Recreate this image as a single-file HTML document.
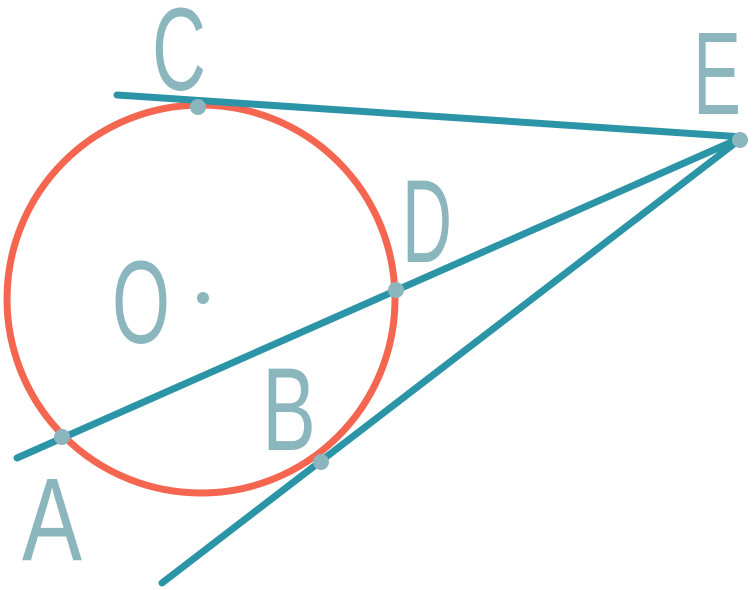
<!DOCTYPE html>
<html><head><meta charset="utf-8"><style>html,body{margin:0;padding:0;background:#fff}svg{display:block}</style></head>
<body>
<svg width="753" height="590" viewBox="0 0 753 590" xmlns="http://www.w3.org/2000/svg">
<circle cx="201" cy="299" r="194" fill="none" stroke="#f46650" stroke-width="7"/>
<g stroke="#2b95a7" stroke-width="7" stroke-linecap="round">
<line x1="117" y1="95" x2="743" y2="137"/>
<line x1="17" y1="458" x2="743" y2="137"/>
<line x1="162" y1="583" x2="743" y2="137"/>
</g>
<g fill="#8bb6bd">
<circle cx="198" cy="107" r="8"/>
<circle cx="396" cy="290" r="8"/>
<circle cx="62" cy="437" r="8"/>
<circle cx="321" cy="462" r="8"/>
<circle cx="740" cy="140" r="8"/>
<circle cx="203" cy="298" r="6"/>
</g>
<g fill="#8bb6bd" font-family="Liberation Sans, sans-serif" font-size="118" font-weight="normal">
<text x="152" y="90" textLength="54" lengthAdjust="spacingAndGlyphs">C</text>
<text x="693" y="114" textLength="48" lengthAdjust="spacingAndGlyphs">E</text>
<text x="402" y="262" textLength="50" lengthAdjust="spacingAndGlyphs">D</text>
<text x="112" y="343" textLength="58" lengthAdjust="spacingAndGlyphs">O</text>
<text x="262" y="450" textLength="54" lengthAdjust="spacingAndGlyphs">B</text>
<text x="22" y="560" textLength="60" lengthAdjust="spacingAndGlyphs">A</text>
</g>
</svg>
</body></html>
